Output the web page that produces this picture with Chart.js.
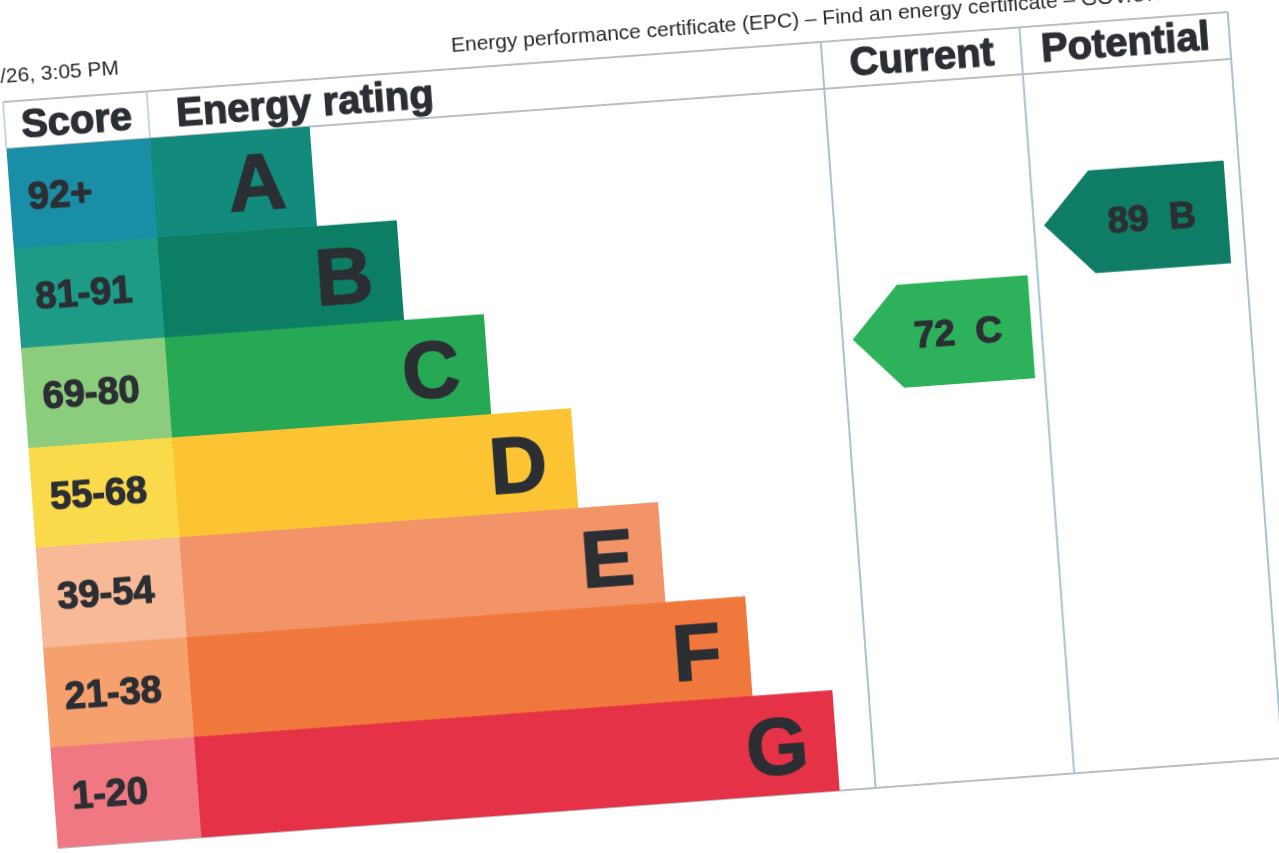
<!DOCTYPE html>
<html>
<head>
<meta charset="utf-8">
<script src="https://cdn.jsdelivr.net/npm/chart.js@4.4.1/dist/chart.umd.min.js"></script>
<style>
  html, body { margin:0; padding:0; background:#fff; width:1279px; height:853px; overflow:hidden; }
  #wrap { position:absolute; left:-27px; top:42px; width:1300px; height:830px;
          transform-origin:30px 60px; transform:rotate(-4.2deg); }
  canvas { display:block; }
</style>
</head>
<body>
<div id="wrap"><canvas id="epc" width="1300" height="830" style="width:1300px;height:830px"></canvas></div>
<script>
// ---- data ----
const bands = ['A', 'B', 'C', 'D', 'E', 'F', 'G'];
const scoreRanges = ['92+', '81-91', '69-80', '55-68', '39-54', '21-38', '1-20'];
const bandMinScores = [92, 81, 69, 55, 39, 21, 1];
const barLengths = [2, 3, 4, 5, 6, 7, 8];
const currentScore = 72;
const potentialScore = 89;
const headerLabels = ['Score', 'Energy rating', 'Current', 'Potential'];
const pageDate = '/26, 3:05 PM';
const pageTitle = 'Energy performance certificate (EPC) \u2013 Find an energy certificate \u2013 GOV.UK';

// ---- styles ----
const scoreColors = ['#1a8ea6', '#1e9b87', '#8ccd7d', '#fada4b', '#f7b996', '#f6a06e', '#f07882'];
const bandColors  = ['#128a7c', '#0c7e64', '#26a855', '#fcc432', '#f39468', '#f0783c', '#e63246'];
const currentColor = '#2db15a';
const potentialColor = '#0f7d66';
const TEXT = '#2b2e33';
const FONT = '"Liberation Sans", Arial, Helvetica, sans-serif';
const L = { scoreStart: -1.8, currentCol: [8.45, 10.94], potentialCol: [10.94, 13.55], header: 47 };

function bandIndexFor(score) { return bandMinScores.findIndex(m => score >= m); }

function heavyText(ctx, s, x, y, w) {
  ctx.fillText(s, x, y);
  ctx.lineWidth = w; ctx.strokeStyle = ctx.fillStyle; ctx.lineJoin = 'round';
  ctx.strokeText(s, x, y);
}

const epcPlugin = {
  id: 'epc',
  beforeDraw(chart) {
    const ctx = chart.ctx;
    ctx.save(); ctx.fillStyle = '#fff'; ctx.fillRect(0, 0, chart.width, chart.height); ctx.restore();
  },
  beforeDatasetsDraw(chart) {
    const { ctx, chartArea: a, scales: { x } } = chart;
    const X = v => x.getPixelForValue(v);
    const top = a.top - L.header;
    const left = X(L.scoreStart), sR = X(0), cL = X(L.currentCol[0]), cR = X(L.currentCol[1]), pR = X(L.potentialCol[1]);
    const line = (x1, y1, x2, y2) => { ctx.beginPath(); ctx.moveTo(x1, y1); ctx.lineTo(x2, y2); ctx.stroke(); };
    ctx.save();
    ctx.strokeStyle = '#a3a8ac'; ctx.lineWidth = 1.5;
    line(left, top, pR, top);
    line(left, a.top, pR, a.top);
    line(left, a.bottom, pR, a.bottom);
    ctx.strokeStyle = '#b9c9d1'; ctx.lineWidth = 1.5;
    line(left, top, left, a.top);
    line(sR, top, sR, a.top);
    ctx.strokeStyle = '#a9c3cf'; ctx.lineWidth = 2;
    line(cL, top, cL, a.bottom);
    line(cR, top, cR, a.bottom);
    line(pR, top, pR, a.bottom);
    ctx.restore();
  },
  afterDatasetsDraw(chart) {
    const { ctx, chartArea: a, scales: { x, y } } = chart;
    const X = v => x.getPixelForValue(v);
    const top = a.top - L.header;
    const left = X(L.scoreStart), sR = X(0), cL = X(L.currentCol[0]), cR = X(L.currentCol[1]), pR = X(L.potentialCol[1]);
    const bandH = (a.bottom - a.top) / bands.length;
    ctx.save();
    // page header texts
    ctx.font = `21px ${FONT}`; ctx.textAlign = 'left'; ctx.textBaseline = 'alphabetic';
    ctx.fillStyle = '#26292e';
    ctx.fillText(pageDate, left - 1, top - 19);
    ctx.fillText(pageTitle, left + 451, top - 17);
    // table headers
    ctx.fillStyle = TEXT;
    ctx.font = `bold 40px ${FONT}`;
    ctx.textAlign = 'center';
    heavyText(ctx, headerLabels[0], (left + sR) / 2, top + 37, 1.2);
    ctx.textAlign = 'left';
    heavyText(ctx, headerLabels[1], sR + 28, top + 37, 1.2);
    ctx.textAlign = 'center';
    heavyText(ctx, headerLabels[2], (cL + cR) / 2, top + 36, 1.2);
    heavyText(ctx, headerLabels[3], (cR + pR) / 2, top + 36, 1.2);
    // score range labels
    const m0 = chart.getDatasetMeta(0).data;
    ctx.font = `bold 38px ${FONT}`; ctx.textAlign = 'left';
    m0.forEach((el, i) => heavyText(ctx, scoreRanges[i], left + 18, el.y + 12, 1.2));
    // band letters
    const m1 = chart.getDatasetMeta(1).data;
    ctx.font = `bold 80px ${FONT}`; ctx.textAlign = 'right';
    m1.forEach((el, i) => heavyText(ctx, bands[i], el.x - 28, el.y + 29, 1.5));
    // arrows
    const arrow = (score, col, color, padR) => {
      const i = bandIndexFor(score);
      const cy = y.getPixelForValue(i) + 2;
      const h = bandH * 1.03;
      const xl = X(col[0]) + 10, xr = X(col[1]) - padR, tip = 48;
      ctx.beginPath();
      ctx.moveTo(xl, cy);
      ctx.lineTo(xl + tip, cy - h / 2);
      ctx.lineTo(xr, cy - h / 2);
      ctx.lineTo(xr, cy + h / 2);
      ctx.lineTo(xl + tip, cy + h / 2);
      ctx.closePath();
      ctx.fillStyle = color; ctx.fill();
      ctx.fillStyle = TEXT;
      ctx.font = `bold 37px ${FONT}`; ctx.textAlign = 'center';
      heavyText(ctx, `${score}  ${bands[i]}`, (xl + tip + xr) / 2 - 8, cy + 13, 1.2);
    };
    arrow(currentScore, L.currentCol, currentColor, 10);
    arrow(potentialScore, L.potentialCol, potentialColor, 15);
    ctx.restore();
  }
};

new Chart(document.getElementById('epc'), {
  type: 'bar',
  data: {
    labels: bands,
    datasets: [
      { label: 'Score', data: bands.map(() => [L.scoreStart, 0]), backgroundColor: scoreColors,
        grouped: false, barPercentage: 1.01, categoryPercentage: 1, borderWidth: 0 },
      { label: 'Energy rating', data: barLengths.map(v => [0, v]), backgroundColor: bandColors,
        grouped: false, barPercentage: 1.01, categoryPercentage: 1, borderWidth: 0 }
    ]
  },
  options: {
    indexAxis: 'y',
    responsive: false,
    animation: false,
    devicePixelRatio: 1,
    layout: { padding: { left: 30, top: 60 + L.header, right: 1300 - 30 - 1228, bottom: 830 - 60 - 748 } },
    scales: {
      x: { type: 'linear', min: L.scoreStart, max: L.potentialCol[1], display: false },
      y: { type: 'category', display: false }
    },
    plugins: { legend: { display: false }, tooltip: { enabled: false } }
  },
  plugins: [epcPlugin]
});
</script>
</body>
</html>
